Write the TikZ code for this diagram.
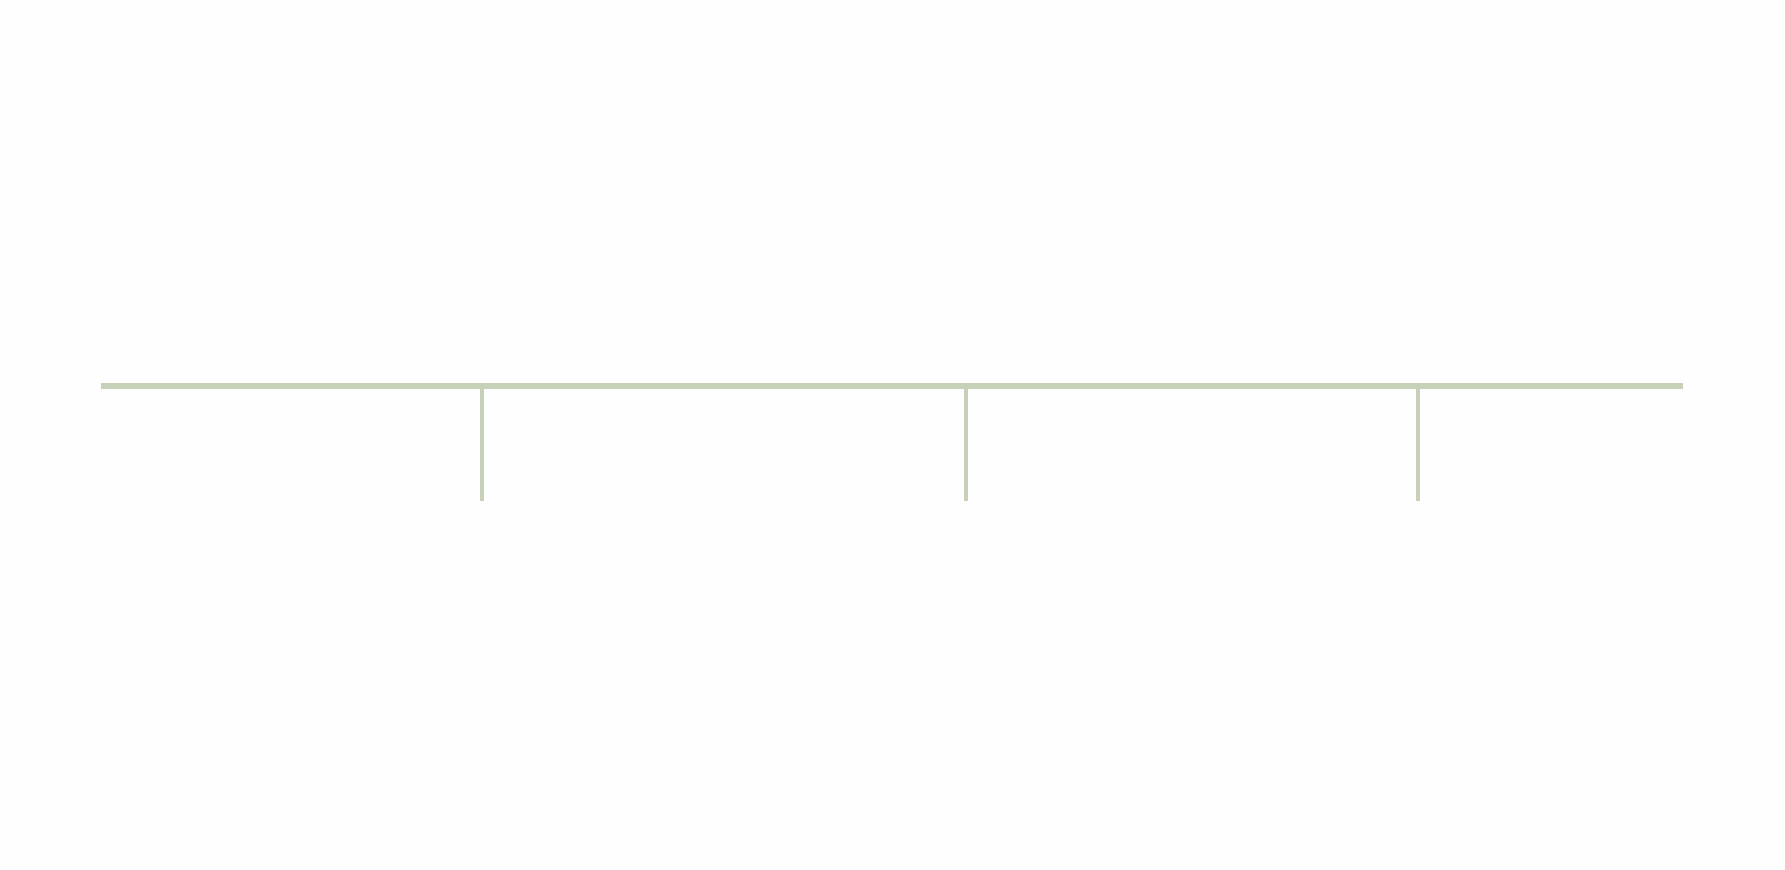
\documentclass[tikz,border=0pt]{standalone}
\usepackage{tikz}
\definecolor{sage}{RGB}{198,209,184}
\definecolor{bgwhite}{RGB}{254,254,254}
\tikzset{
  mainline/.style={draw=sage, line width=1.62pt},
  tickline/.style={draw=sage, line width=1.14pt}
}
\begin{document}
\begin{tikzpicture}[x=0.01cm, y=-0.01cm]
\fill[bgwhite] (0,0) rectangle (1785,870);
\useasboundingbox (0,0) rectangle (1785,870);
\coordinate (L) at (101,386.2);
\coordinate (R) at (1683,386.2);
\coordinate (t1) at (482,386.2);
\coordinate (t2) at (965.5,386.2);
\coordinate (t3) at (1418,386.2);
\coordinate (b1) at (482,501);
\coordinate (b2) at (965.5,501);
\coordinate (b3) at (1418,501);
\draw[tickline] (t1) -- (b1);
\draw[tickline] (t2) -- (b2);
\draw[tickline] (t3) -- (b3);
\draw[mainline] (L) -- (R);
\end{tikzpicture}
\end{document}
